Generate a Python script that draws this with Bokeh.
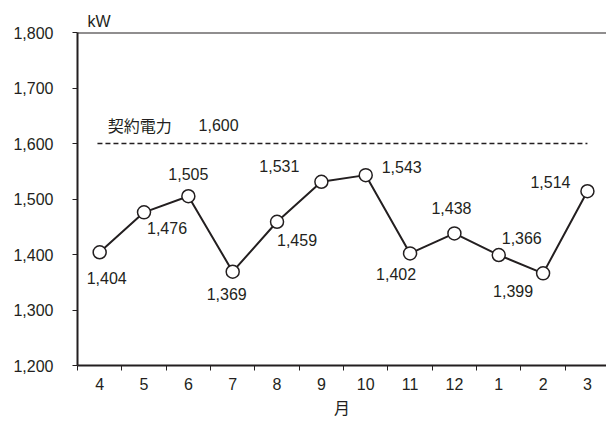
from bokeh.plotting import figure
from bokeh.models import Range1d, FixedTicker, NumeralTickFormatter, Span, Label, ColumnDataSource
from bokeh.core.properties import value
from bokeh.embed import file_html
from bokeh.resources import INLINE

# ---- data ----
months = ["4", "5", "6", "7", "8", "9", "10", "11", "12", "1", "2", "3"]
demand_kw = [1404, 1476, 1505, 1369, 1459, 1531, 1543, 1402, 1438, 1399, 1366, 1514]
point_labels = ["1,404", "1,476", "1,505", "1,369", "1,459", "1,531", "1,543",
                "1,402", "1,438", "1,366", "1,399", "1,514"]
contract_kw = 1600
contract_name = "契約電力"
y_ticks = [1200, 1300, 1400, 1500, 1600, 1700, 1800]
unit_text = "kW"
x_title = "月"

# ---- label placement (screen px offsets) ----
label_dx = [7, 23, 0, -6, 20, -42, 36, -14, -3, 23, -30, -37]
label_dy = [26, 16, -22, 22, 18, -16, -8, 21, -25, -17, 18, -9]

INK = "#231f20"
NUM_FONT = "Liberation Sans"
CJK_FONT = "Noto Sans CJK JP"
NUM_SIZE = "16px"

xs = [i + 0.5 for i in range(len(months))]

p = figure(width=606, height=421, output_backend="svg", toolbar_location=None,
           x_range=Range1d(0, 11.93), y_range=Range1d(y_ticks[0], y_ticks[-1]),
           min_border_left=77, min_border_right=0, min_border_top=32, min_border_bottom=55)
p.outline_line_color = None
p.grid.visible = False
p.background_fill_color = "white"
p.border_fill_color = "white"

# unit as title
p.title.text = unit_text
p.title.align = "left"
p.title.offset = 10
p.title.standoff = 6
p.title.text_font = NUM_FONT
p.title.text_font_size = NUM_SIZE
p.title.text_font_style = "normal"
p.title.text_color = INK

# x axis: labels at category centres, tick marks at category boundaries
xa = p.xaxis[0]
xa.ticker = FixedTicker(ticks=xs, minor_ticks=list(range(len(months) + 1)))
xa.major_label_overrides = {x: m for x, m in zip(xs, months)}
xa.major_tick_line_color = None
xa.minor_tick_line_color = INK
xa.minor_tick_line_width = 1
xa.minor_tick_out = 5
xa.minor_tick_in = 0
xa.axis_line_color = INK
xa.axis_line_width = 2
xa.major_label_text_font = NUM_FONT
xa.major_label_text_font_size = NUM_SIZE
xa.major_label_text_color = INK
xa.major_label_standoff = 6
xa.axis_label = x_title
xa.axis_label_text_font = CJK_FONT
xa.axis_label_text_font_size = "16px"
xa.axis_label_text_font_style = "normal"
xa.axis_label_text_color = INK
xa.axis_label_standoff = 2

ya = p.yaxis[0]
ya.ticker = FixedTicker(ticks=y_ticks)
ya.formatter = NumeralTickFormatter(format="0,0")
ya.major_tick_out = 5
ya.major_tick_in = 0
ya.minor_tick_line_color = None
ya.major_tick_line_color = INK
ya.axis_line_color = INK
ya.axis_line_width = 2
ya.major_label_text_font = NUM_FONT
ya.major_label_text_font_size = NUM_SIZE
ya.major_label_text_color = INK
ya.major_label_standoff = 19

# top border line
p.add_layout(Span(location=y_ticks[-1], dimension="width", line_color=INK, line_width=2))

# contract line
p.line([xs[0] - 0.05, xs[-1]], [contract_kw, contract_kw], line_color=INK,
       line_width=1.5, line_dash="5 3")
p.add_layout(Label(x=0.68, y=contract_kw, y_offset=19, text=contract_name,
                   text_font=CJK_FONT, text_font_size="16px", text_color=INK,
                   text_baseline="middle", text_align="left"))
p.add_layout(Label(x=2.73, y=contract_kw, y_offset=19, text=f"{contract_kw:,}",
                   text_font=NUM_FONT, text_font_size=NUM_SIZE, text_color=INK,
                   text_baseline="middle", text_align="left"))

src = ColumnDataSource(dict(x=xs, y=demand_kw, lab=point_labels, dx=label_dx, dy=label_dy))
p.line("x", "y", source=src, line_color=INK, line_width=2)
p.scatter("x", "y", source=src, size=13, fill_color="white", line_color=INK, line_width=1.5)
p.text("x", "y", text="lab", x_offset="dx", y_offset="dy", source=src,
       text_font=value(NUM_FONT), text_font_size=NUM_SIZE, text_color=INK,
       text_align="center", text_baseline="middle")

open("out.html", "w").write(file_html(p, INLINE))
